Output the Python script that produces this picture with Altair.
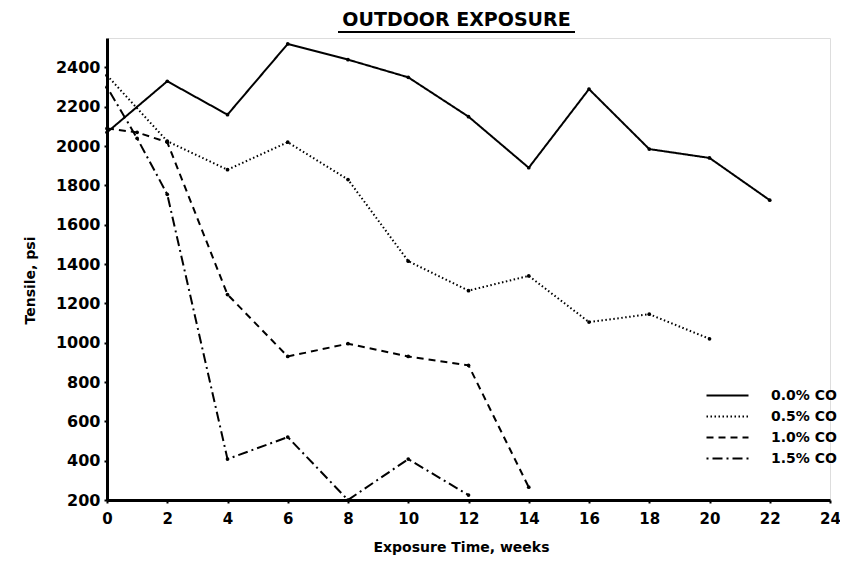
import altair as alt
import pandas as pd

# ---- data ----
series_labels = ["0.0% CO", "0.5% CO", "1.0% CO", "1.5% CO"]

w_00 = [0, 2, 4, 6, 8, 10, 12, 14, 16, 18, 20, 22]
v_00 = [2070, 2330, 2160, 2520, 2440, 2350, 2150, 1890, 2290, 1985, 1940, 1725]

w_05 = [0, 2, 4, 6, 8, 10, 12, 14, 16, 18, 20]
v_05 = [2360, 2025, 1880, 2020, 1830, 1415, 1265, 1340, 1105, 1145, 1020]

w_10 = [0, 1, 2, 4, 6, 8, 10, 12, 14]
v_10 = [2090, 2070, 2020, 1245, 930, 995, 930, 885, 265]

w_15 = [0, 1, 2, 4, 6, 8, 10, 12]
v_15 = [2300, 2040, 1755, 408, 520, 200, 408, 225]

x_ticks = [0, 2, 4, 6, 8, 10, 12, 14, 16, 18, 20, 22, 24]
y_ticks = [200, 400, 600, 800, 1000, 1200, 1400, 1600, 1800, 2000, 2200, 2400]

rows = []
for lab, ws, vs in zip(series_labels, [w_00, w_05, w_10, w_15], [v_00, v_05, v_10, v_15]):
    for w, v in zip(ws, vs):
        rows.append({"series": lab, "week": w, "psi": v})
df = pd.DataFrame(rows)

FONT = "DejaVu Sans"

x_enc = alt.X(
    "week:Q",
    scale=alt.Scale(domain=[0, 24], nice=False, zero=False),
    axis=alt.Axis(
        values=x_ticks, format="d", title="Exposure Time, weeks", grid=False,
        domainColor="black", domainWidth=3, tickColor="black", tickWidth=2, tickSize=3,
        labelFont=FONT, labelFontSize=15, labelFontWeight="bold", labelColor="black",
        labelPadding=8, titleFont=FONT, titleFontSize=14, titleFontWeight="bold",
        titleColor="black", titlePadding=14, titleX=354, labelFlush=False,
    ),
)
y_enc = alt.Y(
    "psi:Q",
    scale=alt.Scale(domain=[200, 2550], nice=False, zero=False),
    axis=alt.Axis(
        values=y_ticks, format="d", title="Tensile, psi", grid=False,
        domainColor="black", domainWidth=3, tickColor="black", tickWidth=2, tickSize=3,
        labelFont=FONT, labelFontSize=16, labelFontWeight="bold", labelColor="black",
        labelPadding=4, titleFont=FONT, titleFontSize=14, titleFontWeight="bold",
        titleColor="black", titlePadding=18, titleY=242, labelFlush=False,
    ),
)

dash_scale = alt.Scale(
    domain=series_labels,
    range=[[1, 0], [1.5, 2.5], [7, 5], [2, 4, 10, 4]],
)

base = alt.Chart(df).encode(x=x_enc, y=y_enc)

lines = base.mark_line(color="black", strokeWidth=2).encode(
    strokeDash=alt.StrokeDash(
        "series:N", scale=dash_scale, sort=series_labels,
        legend=alt.Legend(
            title=None, orient="none", legendX=609, legendY=346,
            symbolType="M-2,0H2", symbolSize=441, symbolStrokeWidth=2,
            symbolStrokeColor="black", symbolFillColor="transparent",
            labelFont=FONT, labelFontSize=14,
            labelFontWeight="bold", labelColor="black", labelOffset=32,
            rowPadding=2,
        ),
    ),
    order="week:Q",
)

points = base.mark_point(filled=True, size=14, color="black", opacity=1).encode(
    detail="series:N"
)

underline = alt.Chart(pd.DataFrame({"k": [0]})).mark_rule(
    color="black", strokeWidth=2
).encode(x=alt.value(231), x2=alt.value(468), y=alt.value(-6))

chart = alt.layer(lines, points, underline).properties(
    width=723,
    height=462,
    title=alt.TitleParams(
        "OUTDOOR EXPOSURE", font=FONT, fontSize=19, fontWeight="bold",
        color="black", offset=1, dx=-12, anchor="middle",
    ),
    padding={"left": 99, "top": 30, "right": 10, "bottom": 56},
    autosize=alt.AutoSizeParams(type="none"),
).configure_view(stroke=None).configure(background="white")

chart.save("out.html", embed_options={"renderer": "svg", "actions": False})
